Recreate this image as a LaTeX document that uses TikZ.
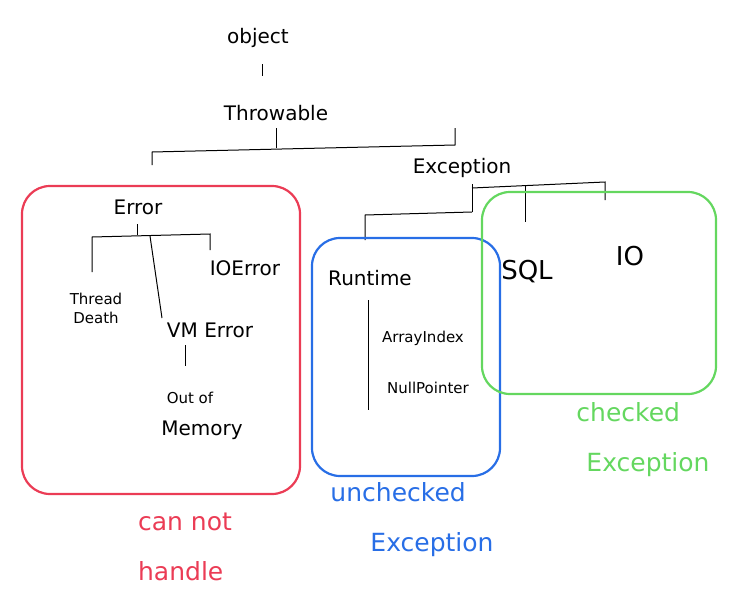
\documentclass[tikz,border=0pt]{standalone}
\usepackage{fontspec}
\setmainfont{DejaVu Sans}
\definecolor{hred}{RGB}{235,60,85}
\definecolor{hblue}{RGB}{40,110,230}
\definecolor{hgreen}{RGB}{100,215,95}
\begin{document}
\begin{tikzpicture}[x=1pt,y=-1pt,
  t/.style={font=\fontsize{20}{24}\selectfont,inner sep=0pt},
  s/.style={font=\fontsize{15}{19}\selectfont,inner sep=0pt,align=center},
  big/.style={font=\fontsize{26}{30}\selectfont,inner sep=0pt},
  lbl/.style={font=\fontsize{25}{50}\selectfont,inner sep=0pt},
  ln/.style={line width=1pt,black},
  box/.style={line width=2.2pt,rounded corners=28pt}]
\useasboundingbox (0,0) rectangle (740,616);
\node[t] (obj) at (258,38) {object};
\node[t] (thr) at (276,113) {Throwable};
\node[t] (exc) at (462,168) {Exception};
\node[t] (err) at (138,207) {Error};
\node[s] (td) at (96,308) {Thread\\Death};
\node[t] (ioe) at (245,268) {IOError};
\node[t] (vm) at (210,330) {VM Error};
\node[s] (oom) at (190,398) {Out of};
\node[t] (mem) at (202,430) {Memory};
\node[t] (rt) at (370,278) {Runtime};
\node[s] (ai) at (423,338) {ArrayIndex};
\node[s] (np) at (428,388) {NullPointer};
\node[big] (sql) at (527,272) {SQL};
\node[big] (io) at (630,256) {IO};
% connectors
\draw[ln] (262,64) -- (262,76);
\draw[ln] (276,128) -- (276,148);
\draw[ln] (152,165) -- (152,152) -- (455,145) -- (455,128);
\draw[ln] (137,224) -- (137,235);
\draw[ln] (92,272) -- (92,237) -- (210,234) -- (210,250);
\draw[ln] (150,236) -- (162,318);
\draw[ln] (185,345) -- (185,366);
\draw[ln] (472,184) -- (472,212);
\draw[ln] (365,240) -- (365,215) -- (472,212);
\draw[ln] (472,188) -- (605,182) -- (605,200);
\draw[ln] (525,186) -- (525,222);
\draw[ln] (368,300) -- (368,410);
% boxes
\draw[box,hred] (22,186) rectangle (300,494);
\draw[box,hblue] (312,238) rectangle (500,476);
\draw[box,hgreen] (482,192) rectangle (716,394);
% labels
\node[lbl,hgreen,align=left] (chk) at (643,440) {checked\\\hspace*{10pt}Exception};
\node[lbl,hblue,align=left] (unc) at (412,520) {unchecked\\\hspace*{40pt}Exception};
\node[lbl,hred,align=left] (cnh) at (185,547) {can not\\handle};
\end{tikzpicture}
\end{document}
